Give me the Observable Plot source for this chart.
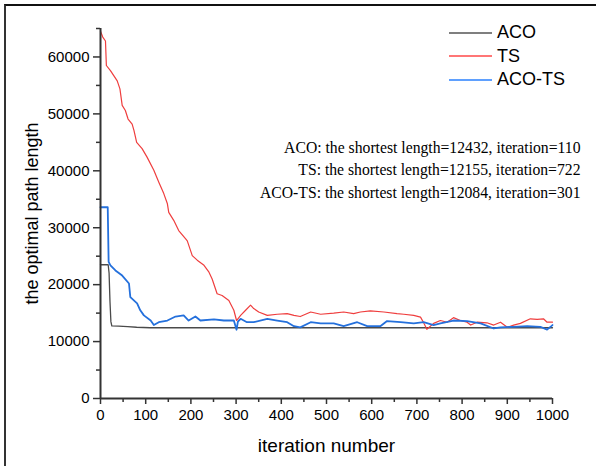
<!DOCTYPE html>
<html>
<head>
<meta charset="utf-8">
<script src="https://cdn.jsdelivr.net/npm/d3@7"></script>
<script src="https://cdn.jsdelivr.net/npm/@observablehq/plot@0.6"></script>
<style>
  html, body { margin: 0; padding: 0; background: #fff; overflow: hidden; }
  #wrap { position: relative; width: 596px; height: 466px; }
  #frame { position: absolute; left: 4px; top: 4px; width: 640px; height: 520px; border-top: 2px solid #111; border-left: 2px solid #333; }
  #legend { position: absolute; left: 449px; top: 21px; font-family: "Liberation Sans", Arial, sans-serif; font-size: 18px; color: #000; }
  #legend .row { display: flex; align-items: center; height: 23.5px; }
  #legend svg { width: 43px; height: 4px; margin-right: 5px; }
</style>
</head>
<body>
<div id="wrap">
  <div id="chart"></div>
  <div id="frame"></div>
  <div id="legend"></div>
</div>
<script>
// ---- data ----
const seriesNames = ["ACO", "TS", "ACO-TS"];
const seriesColors = ["#4a4a4a", "#ef3e3e", "#2470dc"];

const acoIter = [0, 17, 19, 21, 23, 25, 40, 60, 80, 110, 1000];
const acoLen  = [23500, 23500, 22000, 17000, 13500, 12750, 12700, 12620, 12520, 12432, 12432];

const tsIter = [0, 5, 11, 13, 22, 37, 43, 48, 55, 61, 70, 74, 80, 92, 103, 118, 129, 140, 148, 151,
  162, 173, 188, 192, 203, 214, 229, 240, 247, 258, 269, 284, 295, 301, 310, 321, 332, 339, 350, 369,
  391, 413, 428, 442, 465, 487, 516, 538, 560, 575, 597, 627, 656, 671, 693, 708, 715, 722, 737, 752,
  767, 781, 796, 811, 819, 833, 855, 870, 885, 900, 914, 929, 951, 966, 980, 988, 1000];
const tsLen = [64500, 63500, 62800, 58500, 57600, 55800, 54400, 51500, 50600, 49100, 48200, 47100, 45000, 43900, 42400, 40100, 38000, 36000, 34200, 32700,
  31300, 29500, 28100, 27700, 25100, 24300, 23400, 22200, 21000, 18400, 18100, 17200, 15500, 13700, 14600, 15500, 16400, 15800, 15200, 14600,
  14800, 14900, 14600, 14400, 15200, 14800, 15000, 15200, 14900, 15200, 15400, 15200, 14900, 14800, 14600, 14300, 13300, 12155, 13200, 13700,
  13400, 14200, 13700, 13400, 12900, 13400, 13300, 12900, 13400, 12500, 12900, 13200, 14000, 13900, 14000, 13400, 13400];

const actsIter = [0, 16, 18, 22, 33, 48, 63, 66, 81, 88, 96, 111, 118, 129, 148, 166, 184, 195, 210, 221,
  251, 273, 295, 301, 304, 310, 324, 339, 369, 391, 413, 428, 442, 465, 487, 516, 538, 568, 590, 619,
  634, 664, 693, 715, 737, 752, 781, 811, 841, 870, 885, 914, 944, 973, 988, 1000];
const actsLen = [33600, 33600, 24000, 23400, 22500, 21600, 20200, 17800, 16700, 15500, 14600, 13700, 12900, 13400, 13700, 14400, 14600, 13700, 14400, 13700,
  13900, 13700, 13700, 12084, 13500, 14000, 13400, 13400, 14000, 13700, 13400, 12700, 12500, 13400, 13200, 13200, 12700, 13400, 12700, 12700,
  13600, 13400, 13200, 13400, 12900, 13200, 13700, 13600, 13200, 12300, 12500, 12600, 12700, 12600, 12100, 12900];

const xTicks = [0, 100, 200, 300, 400, 500, 600, 700, 800, 900, 1000];
const xMinor = [50, 150, 250, 350, 450, 550, 650, 750, 850, 950];
const yTicks = [0, 10000, 20000, 30000, 40000, 50000, 60000];
const yMinor = [5000, 15000, 25000, 35000, 45000, 55000, 65000];

const xTitle = "iteration number";
const yTitle = "the optimal path length";
const notes = [
  "ACO: the shortest length=12432, iteration=110",
  "TS: the shortest length=12155, iteration=722",
  "ACO-TS: the shortest length=12084, iteration=301"
];

// ---- build ----
const rows = (it, v) => it.map((x, i) => ({ x, y: v[i] }));
const aco = rows(acoIter, acoLen);
const ts = rows(tsIter, tsLen);
const acts = rows(actsIter, actsLen);

const font = "'Liberation Sans', Arial, sans-serif";
const axisColor = "#333";

const chart = Plot.plot({
  width: 596,
  height: 466,
  marginLeft: 100,
  marginRight: 44,
  marginTop: 28,
  marginBottom: 68,
  style: { fontFamily: font, fontSize: "15px", color: "#000", background: "transparent", overflow: "visible" },
  x: { domain: [0, 1000] },
  y: { domain: [0, 65000] },
  marks: [
    Plot.axisX({ ticks: xTicks, tickSize: 6, tickPadding: 5, tickFormat: d => String(d), label: null, stroke: axisColor, strokeWidth: 1.5, fontSize: 15, fill: "#000" }),
    Plot.axisX({ ticks: xMinor, tickSize: 4, tickFormat: () => "", label: null, stroke: axisColor, strokeWidth: 1.5 }),
    Plot.axisY({ ticks: yTicks, tickSize: 7, tickPadding: 4, tickFormat: d => String(d), label: null, stroke: axisColor, strokeWidth: 1.5, fontSize: 15, fill: "#000" }),
    Plot.axisY({ ticks: yMinor, tickSize: 4, tickFormat: () => "", label: null, stroke: axisColor, strokeWidth: 1.5 }),
    Plot.line(aco, { x: "x", y: "y", stroke: seriesColors[0], strokeWidth: 1.3 }),
    Plot.line(ts, { x: "x", y: "y", stroke: seriesColors[1], strokeWidth: 1.2 }),
    Plot.line(acts, { x: "x", y: "y", stroke: seriesColors[2], strokeWidth: 1.8 }),
    Plot.ruleX([0], { stroke: axisColor, strokeWidth: 2 }),
    Plot.ruleY([0], { stroke: axisColor, strokeWidth: 2 }),
    Plot.text([yTitle], { text: d => d, frameAnchor: "left", textAnchor: "middle", lineAnchor: "middle", rotate: -90, dx: -68, fontSize: 18, fill: "#000" }),
    Plot.text([xTitle], { text: d => d, frameAnchor: "bottom", textAnchor: "middle", lineAnchor: "middle", dy: 47, fontSize: 19, fill: "#000" }),
    Plot.text([notes.join("\n")], { text: d => d, frameAnchor: "top-right", textAnchor: "end", lineAnchor: "middle", dx: 28, dy: 139.5, lineHeight: 1.43, fontSize: 15.7, fontFamily: "'Liberation Serif', 'Times New Roman', serif", fill: "#000" })
  ]
});
document.getElementById("chart").appendChild(chart);

const legend = document.getElementById("legend");
seriesNames.forEach((name, i) => {
  const row = document.createElement("div");
  row.className = "row";
  row.innerHTML = `<svg viewBox="0 0 43 4"><line x1="0" y1="2" x2="43" y2="2" stroke="${d3.color(seriesColors[i]).brighter(0.4)}" stroke-width="1.4"/></svg><span>${name}</span>`;
  legend.appendChild(row);
});
</script>
</body>
</html>
